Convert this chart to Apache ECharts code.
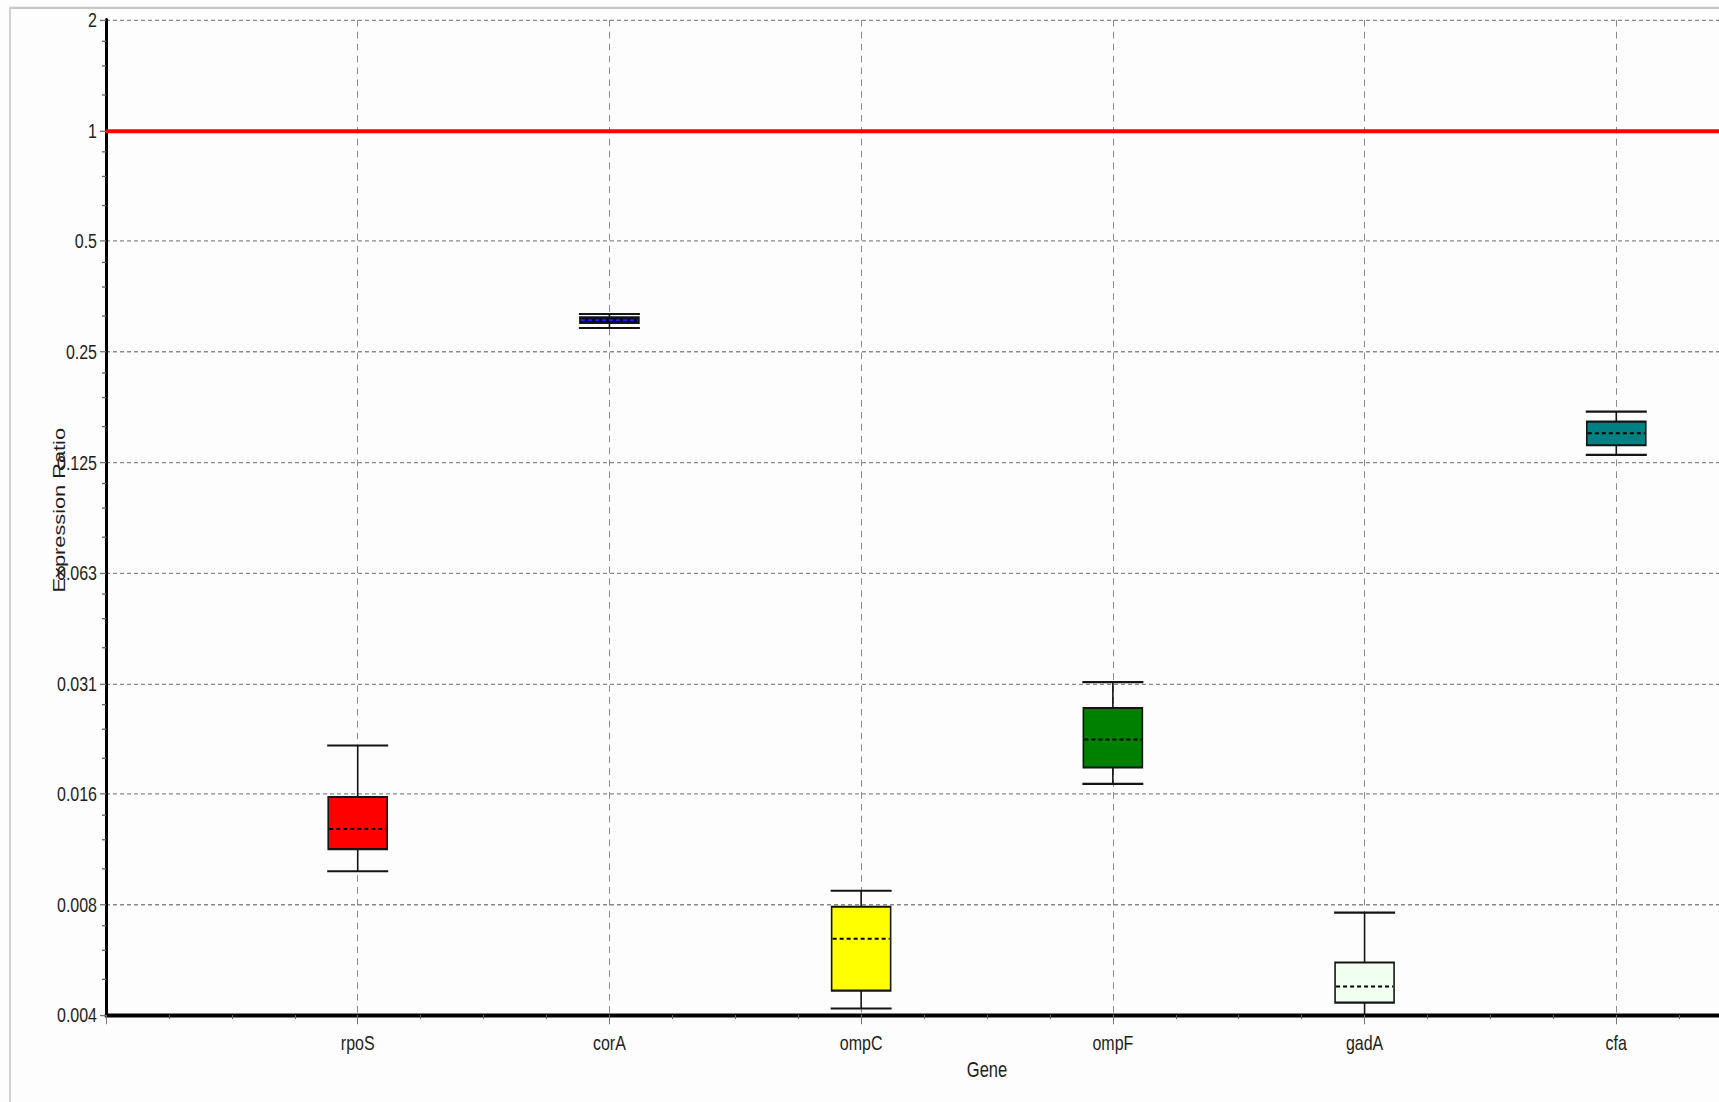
<!DOCTYPE html>
<html>
<head>
<meta charset="utf-8">
<title>Expression Ratio by Gene</title>
<script src="https://cdn.jsdelivr.net/npm/echarts@6/dist/echarts.min.js"></script>
<style>
  html, body { margin: 0; padding: 0; background: #fdfdfd; }
  #wrap { width: 1719px; height: 1102px; overflow: hidden; background: #fdfdfd; }
  /* the plot is laid out on a shorter canvas and stretched vertically */
  #chart { width: 1719px; height: 835px; transform: scaleY(1.3198); transform-origin: 0 0; }
</style>
</head>
<body>
<div id="wrap"><div id="chart"></div></div>
<script>
// Genes along the x axis (positions 1..6)
const genes = ['rpoS', 'corA', 'ompC', 'ompF', 'gadA', 'cfa'];

// Box-and-whisker statistics of the expression ratio for each gene
const whiskerLow  = [0.00962, 0.2900, 0.00407, 0.01664, 0.0036,  0.1309];
const boxLow      = [0.01105, 0.2991, 0.00455, 0.01843, 0.00422, 0.1390];
const medians     = [0.01254, 0.3043, 0.00630, 0.02197, 0.00467, 0.1499];
const boxHigh     = [0.01532, 0.3100, 0.00770, 0.02677, 0.00543, 0.1612];
const whiskerHigh = [0.02117, 0.3165, 0.00851, 0.03148, 0.00742, 0.1716];

// Box fills and median-line colours
const boxColors    = ['#ff0000', '#00003a', '#ffff00', '#008000', '#f0fff0', '#008080'];
const medianColors = ['#000000', '#1f1fff', '#000000', '#000000', '#000000', '#000000'];

// Log2 y axis: tick values and their printed labels
const yTickValues = [0.00390625, 0.0078125, 0.015625, 0.03125, 0.0625, 0.125, 0.25, 0.5, 1, 2];
const yTickLabels = ['0.004', '0.008', '0.016', '0.031', '0.063', '0.125', '0.25', '0.5', '1', '2'];
// minor ticks inside each doubling interval, as multiples of its lower tick
const yMinorSteps = [1.25, 1.5, 1.75];

// Reference ratio (no change in expression)
const referenceRatio = 1;

const FONT = "'Liberation Sans', Arial, sans-serif";
const TEXT_COLOR = '#1e1e1e';
const BOX_WIDTH = 59;
const CAP_WIDTH = 61;

const chart = echarts.init(document.getElementById('chart'), null, { renderer: 'svg', width: 1719, height: 835 });

function renderBox(params, api) {
  const i = params.dataIndex;
  const x = api.value(0);
  const wl = api.coord([x, api.value(1)]);
  const bl = api.coord([x, api.value(2)]);
  const md = api.coord([x, api.value(3)]);
  const bh = api.coord([x, api.value(4)]);
  const wh = api.coord([x, api.value(5)]);
  const cx = md[0];
  const hb = BOX_WIDTH / 2;
  const hc = CAP_WIDTH / 2;
  const ink = { stroke: '#151515', lineWidth: 1.6 };
  return {
    type: 'group',
    children: [
      { type: 'line', shape: { x1: cx, y1: wl[1], x2: cx, y2: wh[1] }, style: ink },
      { type: 'line', shape: { x1: cx - hc, y1: wh[1], x2: cx + hc, y2: wh[1] }, style: ink },
      { type: 'line', shape: { x1: cx - hc, y1: wl[1], x2: cx + hc, y2: wl[1] }, style: ink },
      {
        type: 'rect',
        shape: { x: cx - hb, y: bh[1], width: BOX_WIDTH, height: bl[1] - bh[1] },
        style: { fill: boxColors[i], stroke: '#151515', lineWidth: 1.6 }
      },
      {
        type: 'line',
        shape: { x1: cx - hb + 1, y1: md[1], x2: cx + hb - 1, y2: md[1] },
        style: { stroke: medianColors[i], lineWidth: 1.5, lineDash: [4, 3] }
      }
    ]
  };
}

function renderMinorTicks(params, api) {
  const base = api.value(1);
  const children = yMinorSteps.map(function (f) {
    const p = api.coord([0, base * f]);
    return { type: 'line', shape: { x1: p[0] - 4, y1: p[1], x2: p[0], y2: p[1] }, style: { stroke: '#666', lineWidth: 1 } };
  });
  return { type: 'group', children: children };
}

const option = {
  backgroundColor: '#fdfdfd',
  animation: false,
  textStyle: { fontFamily: FONT },
  graphic: [{
    type: 'rect', silent: true, z: -10,
    shape: { x: 10, y: 6, width: 1800, height: 1200 },
    style: { fill: 'none', stroke: '#c6c6c6', lineWidth: 1.6 }
  }],
  grid: { left: 106, top: 15.15, width: 1762, height: 753.9, outerBoundsMode: 'none', containLabel: false },
  xAxis: {
    type: 'value', min: 0, max: 7, interval: 1,
    name: 'Gene', nameLocation: 'middle', nameGap: 33, nameMoveOverlap: false,
    nameTextStyle: { color: TEXT_COLOR, fontSize: 16.5, fontFamily: FONT },
    axisLine: { show: true, onZero: false, lineStyle: { color: '#000', width: 3 } },
    axisTick: { show: true, inside: false, length: 7, lineStyle: { color: '#777', width: 1 } },
    minorTick: { show: true, splitNumber: 4, length: 3, lineStyle: { color: '#666', width: 1 } },
    axisLabel: {
      show: true, margin: 13, color: TEXT_COLOR, fontSize: 16, fontFamily: FONT,
      showMinLabel: true, showMaxLabel: true,
      formatter: function (v) { return genes[Math.round(v) - 1] || ''; }
    },
    splitLine: { show: true, lineStyle: { color: '#8a8a8a', width: 1, type: [5, 4] } }
  },
  yAxis: {
    type: 'log', logBase: 2,
    min: yTickValues[0], max: yTickValues[yTickValues.length - 1],
    interval: 1, splitNumber: 9,
    name: 'Expression Ratio', nameLocation: 'middle', nameGap: 38, nameMoveOverlap: false,
    nameTextStyle: { color: TEXT_COLOR, fontSize: 16.5, fontFamily: FONT, padding: [0, 0, 0, 11] },
    axisLine: { show: true, onZero: false, lineStyle: { color: '#000', width: 3 } },
    axisTick: { show: true, inside: false, length: 6, lineStyle: { color: '#777', width: 1 } },
    axisLabel: {
      show: true, margin: 9, color: TEXT_COLOR, fontSize: 16, fontFamily: FONT,
      showMinLabel: true, showMaxLabel: true,
      formatter: function (v) {
        const i = Math.round(Math.log2(v)) + 8;
        return yTickLabels[i] !== undefined ? yTickLabels[i] : '';
      }
    },
    splitLine: { show: true, lineStyle: { color: '#8a8a8a', width: 1, type: [4, 3] } }
  },
  series: [
    {
      name: 'minor ticks',
      type: 'custom',
      silent: true,
      clip: false,
      z: 1,
      renderItem: renderMinorTicks,
      encode: { x: 0, y: 1 },
      data: yTickValues.slice(0, -1).map(function (v) { return [0, v]; })
    },
    {
      name: 'Expression Ratio',
      type: 'custom',
      clip: true,
      z: 3,
      renderItem: renderBox,
      encode: { x: 0, y: [1, 2, 3, 4, 5] },
      data: genes.map(function (g, i) {
        return [i + 1, whiskerLow[i], boxLow[i], medians[i], boxHigh[i], whiskerHigh[i]];
      }),
      markLine: {
        silent: true,
        symbol: ['none', 'none'],
        label: { show: false },
        lineStyle: { color: '#ff0000', width: 3, type: 'solid' },
        data: [{ yAxis: referenceRatio }]
      }
    }
  ]
};

chart.setOption(option);
</script>
</body>
</html>
